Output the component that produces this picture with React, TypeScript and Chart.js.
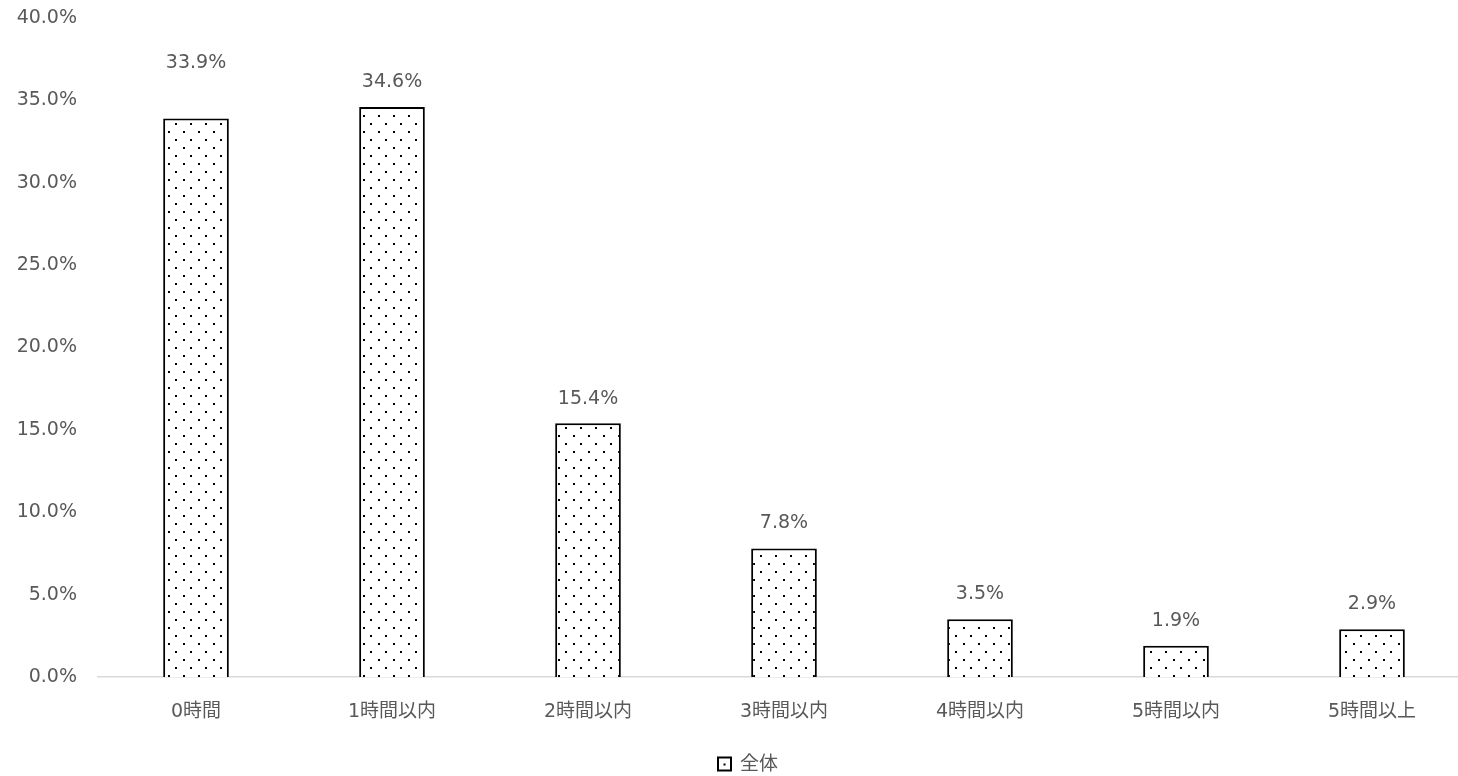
import React, { useEffect, useRef } from "react";
import { Chart, registerables } from "chart.js";

Chart.register(...registerables);

const categories = ["0時間", "1時間以内", "2時間以内", "3時間以内", "4時間以内", "5時間以内", "5時間以上"];
const values = [33.9, 34.6, 15.4, 7.8, 3.5, 1.9, 2.9];
const seriesName = "全体";
const yTicksMax = 40;
const yTickStep = 5;

const FONT = '"DejaVu Sans", "Noto Sans CJK JP", sans-serif';
const TEXT = "#595959";

function makePattern(): CanvasPattern | string {
  const c = document.createElement("canvas");
  c.width = 15;
  c.height = 16;
  const g = c.getContext("2d");
  if (!g) return "#fff";
  g.fillStyle = "#ffffff";
  g.fillRect(0, 0, 15, 16);
  g.fillStyle = "#000000";
  g.fillRect(3, 3, 2, 2);
  g.fillRect(10, 11, 2, 2);
  const p = g.createPattern(c, "repeat");
  return p || "#fff";
}

const labelPlugin = {
  id: "valueLabels",
  afterDatasetsDraw(chart: any, _args: any, opts: any) {
    const ctx = chart.ctx;
    const meta = chart.getDatasetMeta(0);
    const offsets: number[] = opts.offsets || [];
    ctx.save();
    ctx.font = `19px ${FONT}`;
    ctx.fillStyle = TEXT;
    ctx.textAlign = "center";
    ctx.textBaseline = "middle";
    meta.data.forEach((bar: any, i: number) => {
      const v = chart.data.datasets[0].data[i] as number;
      ctx.fillText(v.toFixed(1) + "%", bar.x, bar.y - (offsets[i] ?? 25));
    });
    ctx.restore();
  },
};

const legendPlugin = {
  id: "customLegend",
  afterDraw(chart: any) {
    const ctx = chart.ctx;
    const name = chart.data.datasets[0].label;
    ctx.save();
    ctx.font = `19px ${FONT}`;
    const tw = ctx.measureText(name).width;
    const box = 13;
    const gap = 9;
    const total = box + gap + tw;
    const cx = 748;
    const x0 = cx - total / 2;
    const cy = 764;
    ctx.fillStyle = "#fff";
    ctx.fillRect(x0, cy - box / 2, box, box);
    ctx.strokeStyle = "#000";
    ctx.lineWidth = 2;
    ctx.strokeRect(x0, cy - box / 2, box, box);
    ctx.fillStyle = "#000";
    ctx.fillRect(x0 + box / 2 - 1, cy - 0.5, 2, 2);
    ctx.fillStyle = TEXT;
    ctx.textAlign = "left";
    ctx.textBaseline = "middle";
    ctx.fillText(name, x0 + box + gap, cy + 1);
    ctx.restore();
  },
};

export default function App() {
  const ref = useRef<HTMLCanvasElement | null>(null);

  useEffect(() => {
    document.body.style.margin = "0";
    document.body.style.overflow = "hidden";
    if (!ref.current) return;
    const chart = new Chart(ref.current, {
      type: "bar",
      data: {
        labels: categories,
        datasets: [
          {
            label: seriesName,
            data: values,
            backgroundColor: makePattern() as any,
            borderColor: "#000000",
            borderWidth: 2,
            barPercentage: 0.67,
            categoryPercentage: 0.5,
          },
        ],
      },
      options: {
        animation: false,
        responsive: true,
        maintainAspectRatio: false,
        layout: { padding: { top: 18, right: 0, left: 0, bottom: 0 } },
        plugins: {
          legend: { display: false },
          tooltip: { enabled: false },
          valueLabels: { offsets: [55, 25, 24, 25, 25, 25, 25] },
        } as any,
        scales: {
          x: {
            grid: { display: false, drawTicks: false },
            border: { display: true, color: "#d9d9d9", width: 1.5 },
            ticks: { color: TEXT, font: { family: FONT, size: 19 }, padding: 24, maxRotation: 0 },
            afterFit(scale: any) {
              scale.height = 99;
              scale.paddingLeft = 0;
              scale.paddingRight = 0;
            },
          },
          y: {
            min: 0,
            max: yTicksMax,
            grid: { display: false, drawTicks: false },
            border: { display: false },
            ticks: {
              stepSize: yTickStep,
              color: TEXT,
              font: { family: FONT, size: 19 },
              padding: 21,
              callback: (v: any) => Number(v).toFixed(1) + "%",
            },
            afterFit(scale: any) {
              scale.width = 98;
              scale.paddingTop = 0;
              scale.paddingBottom = 0;
            },
          },
        },
      },
      plugins: [labelPlugin, legendPlugin],
    });
    return () => chart.destroy();
  }, []);

  return (
    <div style={{ position: "fixed", left: 0, top: 0, width: 1470, height: 776, overflow: "hidden" }}>
      <canvas ref={ref} />
    </div>
  );
}
